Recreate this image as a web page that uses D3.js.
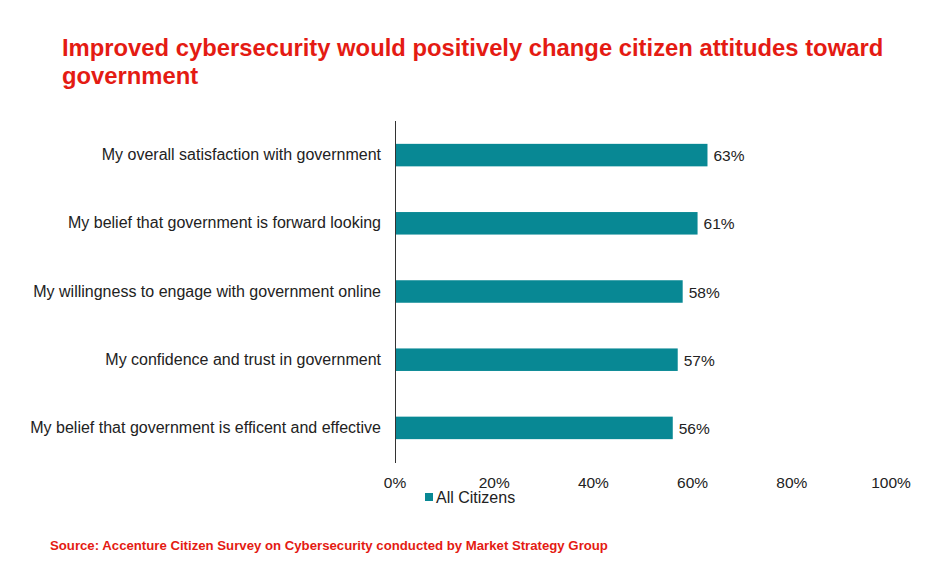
<!DOCTYPE html>
<html><head><meta charset="utf-8">
<script src="https://cdn.jsdelivr.net/npm/d3@7"></script>
<style>body{margin:0;background:#fff;font-family:Arial,"Liberation Sans",sans-serif}</style>
</head><body><svg id="c" width="943" height="571"></svg>
<script>
const categories=["My overall satisfaction with government","My belief that government is forward looking","My willingness to engage with government online","My confidence and trust in government","My belief that government is efficent and effective"];
const values=[63,61,58,57,56];
const ticks=[0,20,40,60,80,100];
const svg=d3.select("#c");
const color="#088894";
const x=d3.scaleLinear().domain([0,100]).range([395,891]);
const y=d3.scaleBand().domain(categories).range([121,462]).paddingInner(0.67).paddingOuter(0.335);
svg.append("text").attr("x",62).attr("y",56).attr("fill","#e41b13").attr("font-size",23.8).attr("font-weight","bold").text("Improved cybersecurity would positively change citizen attitudes toward");
svg.append("text").attr("x",62).attr("y",84).attr("fill","#e41b13").attr("font-size",23.8).attr("font-weight","bold").text("government");
svg.selectAll("rect.b").data(values).join("rect").attr("class","b").attr("x",x(0)).attr("y",(d,i)=>y(categories[i])).attr("width",d=>x(d)-x(0)).attr("height",y.bandwidth()).attr("fill",color);
svg.selectAll("text.v").data(values).join("text").attr("class","v").attr("x",d=>x(d)+6).attr("y",(d,i)=>y(categories[i])+y.bandwidth()/2+6).attr("font-size",15.5).attr("fill","#222").text(d=>d+"%");
svg.selectAll("text.c").data(categories).join("text").attr("class","c").attr("x",381).attr("y",d=>y(d)+y.bandwidth()/2+5).attr("text-anchor","end").attr("font-size",16).attr("fill","#222").text(d=>d);
svg.append("line").attr("x1",395.5).attr("x2",395.5).attr("y1",121).attr("y2",463).attr("stroke","#333");
svg.selectAll("text.t").data(ticks).join("text").attr("class","t").attr("x",d=>x(d)).attr("y",488).attr("text-anchor","middle").attr("font-size",15.5).attr("fill","#222").text(d=>d+"%");
svg.append("rect").attr("x",425).attr("y",493).attr("width",8).attr("height",8).attr("fill",color);
svg.append("text").attr("x",436).attr("y",503).attr("font-size",16).attr("fill","#222").text("All Citizens");
svg.append("text").attr("x",50).attr("y",550).attr("fill","#e41b13").attr("font-size",13.2).attr("font-weight","bold").text("Source: Accenture Citizen Survey on Cybersecurity conducted by Market Strategy Group");
</script></body></html>
